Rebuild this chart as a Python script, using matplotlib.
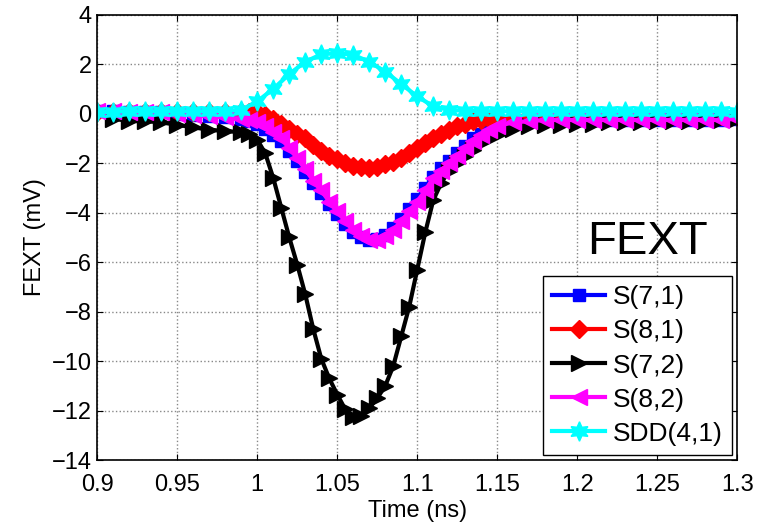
import numpy as np
import matplotlib
matplotlib.use("Agg")
import matplotlib.pyplot as plt
from matplotlib.ticker import FuncFormatter

plt.rcParams['font.family'] = ['Liberation Sans', 'DejaVu Sans']

# time axis (ns): coarse before/after the pulse, finer through the transition
time_s = np.round(np.concatenate([np.arange(0.90, 0.995, 0.01),
                                  np.arange(0.995, 1.1505, 0.005),
                                  np.arange(1.16, 1.3005, 0.01)]), 3)
time_sdd = np.round(np.arange(0.90, 1.3005, 0.01), 3)

# FEXT (mV)
s71 = [0.1, 0.1, 0.08, 0.05, 0.05, 0.0, -0.05, -0.1, -0.15, -0.2,
       -0.3, -0.4, -0.6, -0.85, -1.1, -1.5, -1.9, -2.35, -2.8, -3.2,
       -3.65, -4.05, -4.45, -4.8, -5.0, -5.1, -5.05, -4.9, -4.6, -4.25,
       -3.85, -3.45, -3.0, -2.55, -2.2, -1.9, -1.6, -1.3, -1.0, -0.8,
       -0.6, -0.45,
       -0.3, -0.28, -0.25, -0.25, -0.25, -0.25, -0.25, -0.25, -0.25, -0.25,
       -0.25, -0.25, -0.25, -0.25, -0.2]
s81 = [0.05, 0.05, 0.05, 0.05, 0.05, 0.05, 0.05, 0.05, 0.05, 0.05,
       0.05, 0.05, -0.05, -0.2, -0.4, -0.6, -0.8, -1.0, -1.25, -1.5,
       -1.7, -1.85, -2.0, -2.1, -2.15, -2.2, -2.15, -2.05, -1.95, -1.8,
       -1.6, -1.4, -1.2, -1.0, -0.8, -0.65, -0.5, -0.4, -0.3, -0.25,
       -0.2, -0.15,
       -0.12, -0.1, -0.1, -0.1, -0.1, -0.1, -0.1, -0.1, -0.1, -0.1,
       -0.1, -0.1, -0.1, -0.1, -0.1]
s72 = [0.0, -0.2, -0.3, -0.3, -0.35, -0.45, -0.55, -0.65, -0.7, -0.75,
       -0.8, -1.05, -1.6, -2.6, -3.8, -5.0, -6.1, -7.3, -8.7, -9.9,
       -10.7, -11.35, -11.95, -12.25, -12.2, -11.9, -11.5, -11.0, -10.2, -9.0,
       -7.8, -6.3, -4.8, -3.5, -2.8, -2.3, -2.0, -1.7, -1.45, -1.2,
       -1.0, -0.85,
       -0.6, -0.5, -0.45, -0.45, -0.4, -0.4, -0.35, -0.35, -0.35, -0.3,
       -0.3, -0.3, -0.3, -0.25, -0.2]
s82 = [0.1, 0.1, 0.08, 0.05, 0.05, 0.0, -0.05, -0.1, -0.15, -0.2,
       -0.25, -0.35, -0.5, -0.75, -1.0, -1.4, -1.8, -2.25, -2.7, -3.1,
       -3.55, -3.95, -4.35, -4.7, -4.95, -5.1, -5.1, -4.95, -4.7, -4.35,
       -3.95, -3.55, -3.1, -2.6, -2.3, -2.0, -1.7, -1.4, -1.1, -0.85,
       -0.65, -0.5,
       -0.35, -0.3, -0.25, -0.25, -0.25, -0.25, -0.25, -0.25, -0.25, -0.25,
       -0.25, -0.25, -0.25, -0.25, -0.2]
sdd41 = [0.05, 0.08, 0.1, 0.1, 0.1, 0.1, 0.1, 0.1, 0.12, 0.15,
         0.5, 1.0, 1.6, 2.1, 2.4, 2.45, 2.38, 2.1, 1.7, 1.2,
         0.7, 0.3, 0.15, 0.12, 0.1, 0.1, 0.1, 0.1, 0.1, 0.1,
         0.1, 0.1, 0.1, 0.1, 0.1, 0.1, 0.1, 0.1, 0.1, 0.1, 0.05]

labels = ['S(7,1)', 'S(8,1)', 'S(7,2)', 'S(8,2)', 'SDD(4,1)']
xticks = [0.9, 0.95, 1, 1.05, 1.1, 1.15, 1.2, 1.25, 1.3]
yticks = list(range(-14, 5, 2))

fig = plt.figure(figsize=(7.6, 5.27), dpi=100)
ax = fig.add_axes([0.128, 0.127, 0.842, 0.845])

lw = 3
ax.plot(time_s, s71, color='blue', marker='s', ms=8, lw=lw, label=labels[0])
ax.plot(time_s, s81, color='red', marker='D', ms=9, lw=lw, label=labels[1])
ax.plot(time_s, s72, color='black', marker='>', ms=11, lw=lw, label=labels[2])
ax.plot(time_s, s82, color='magenta', marker='<', ms=11, lw=lw, label=labels[3])
ax.plot(time_sdd, sdd41, color='cyan', marker=(6, 1, 0), ms=14, lw=lw, label=labels[4])

ax.set_xlim(0.9, 1.3)
ax.set_ylim(-14, 4)
ax.set_xticks(xticks)
ax.set_yticks(yticks)
ax.xaxis.set_major_formatter(FuncFormatter(lambda v, p: '%g' % v))
ax.tick_params(direction='in', top=True, right=True, labelsize=17, length=4)
ax.tick_params(axis='x', pad=10)
ax.tick_params(axis='y', pad=4)
ax.grid(True, color='#888888', linestyle=':', linewidth=1)
for sp in ax.spines.values():
    sp.set_linewidth(1.2)

ax.set_xlabel('Time (ns)', fontsize=17, labelpad=3)
ax.set_ylabel('FEXT (mV)', fontsize=17, labelpad=4)

ax.text(1.244, -5.2, 'FEXT', fontsize=34, ha='center', va='center')

leg = ax.legend(loc='lower right', fontsize=19, fancybox=False, framealpha=1,
                edgecolor='black', handlelength=2.0, borderpad=0.35,
                labelspacing=0.38, handletextpad=0.3, borderaxespad=0.2)
leg.get_frame().set_linewidth(1.0)

fig.savefig('out.png', dpi=100)
